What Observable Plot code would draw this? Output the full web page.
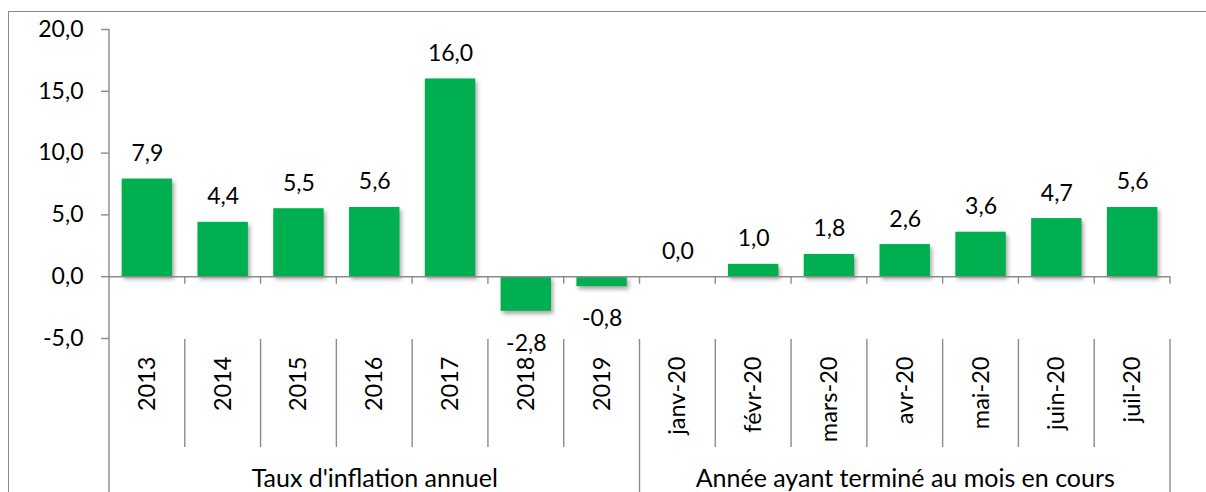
<!DOCTYPE html>
<html><head><meta charset="utf-8">
<script src="https://cdn.jsdelivr.net/npm/d3@7"></script>
<script src="https://cdn.jsdelivr.net/npm/@observablehq/plot@0.6"></script>
<style>
body{margin:0;background:#fff;}
#wrap{position:relative;width:1206px;height:492px;overflow:hidden;}
#frame{position:absolute;left:8px;top:11px;width:1400px;height:700px;border-left:1.6px solid #8a8a8a;border-top:1.6px solid #8a8a8a;pointer-events:none;}
.bars{filter:drop-shadow(2px 3px 2px rgba(0,0,0,0.35));}
#wrap svg{font-family:Lato, "Open Sans", sans-serif;}
</style></head><body><div id="wrap"><div id="frame"></div></div>
<script>
const categories = ["2013","2014","2015","2016","2017","2018","2019","janv-20","févr-20","mars-20","avr-20","mai-20","juin-20","juil-20"];
const values = [7.9, 4.4, 5.5, 5.6, 16.0, -2.8, -0.8, 0.0, 1.0, 1.8, 2.6, 3.6, 4.7, 5.6];
const groups = ["Taux d'inflation annuel", "Année ayant terminé au mois en cours"];
const groupSizes = [7, 7];
const yTicks = [-5, 0, 5, 10, 15, 20];

const data = categories.map((c, i) => ({cat: c, value: values[i]}));
const fmt = v => (Math.abs(v) < 1e-9 ? 0 : v).toFixed(1).replace(".", ",");

// group label positions: middle category of each group; group boundaries
let start = 0;
const groupData = groups.map((g, i) => {
  const mid = categories[start + Math.floor(groupSizes[i] / 2)];
  const last = categories[start + groupSizes[i] - 1];
  start += groupSizes[i];
  return {label: g, mid, last};
});
const groupEnds = new Set(groupData.map(d => d.last));

const gray = "#8c8c8c";
const FS = 23;

const categoryAxis = (index, scales, vals, dims) => {
  const x = scales.x, y = scales.y;
  const bw = x.bandwidth();
  const g = d3.create("svg:g").attr("stroke", gray).attr("stroke-width", 1.4).attr("fill", "none");
  const y0 = y(0), yb = y(-5);
  // vertical axis line
  g.append("line").attr("x1", dims.marginLeft).attr("x2", dims.marginLeft)
    .attr("y1", y(20)).attr("y2", dims.height);
  for (const c of categories) {
    const xr = x(c) + bw;
    // small ticks under zero line
    g.append("line").attr("x1", xr).attr("x2", xr).attr("y1", y0).attr("y2", y0 + 7.5);
    // separators
    g.append("line").attr("x1", xr).attr("x2", xr).attr("y1", yb + 1)
      .attr("y2", groupEnds.has(c) ? dims.height : yb + 109);
  }
  return g.node();
};

const chart = Plot.plot({
  width: 1206,
  height: 492,
  marginLeft: 109,
  marginRight: 36,
  marginTop: 29,
  marginBottom: 154,
  style: {fontFamily: "Lato, 'Open Sans', sans-serif", background: "transparent"},
  x: {domain: categories, padding: 0, round: false, axis: null},
  y: {domain: [-5, 20], axis: null},
  marks: [
    Plot.axisY(yTicks, {anchor: "left", label: null, tickSize: 8, tickPadding: 18, tickFormat: fmt, fontSize: FS, stroke: gray, strokeWidth: 1.4, fill: "black"}),
    Plot.barY(data, {x: "cat", y: "value", fill: "#00b050", insetLeft: 12.7, insetRight: 12.7, className: "bars"}),
    Plot.ruleY([0], {stroke: gray, strokeWidth: 1.4}),
    categoryAxis,
    Plot.text(data.filter(d => d.value >= 0), {x: "cat", y: "value", text: d => fmt(d.value), lineAnchor: "bottom", dy: -18, fontSize: FS, fill: "black"}),
    Plot.text(data.filter(d => d.value < 0), {x: "cat", y: "value", text: d => fmt(d.value), lineAnchor: "top", dy: 23, fontSize: FS, fill: "black"}),
    Plot.text(data, {x: "cat", frameAnchor: "bottom", text: "cat", rotate: -90, textAnchor: "end", lineAnchor: "middle", dy: 18, fontSize: 23.5, fill: "black"}),
    Plot.text(groupData, {x: "mid", frameAnchor: "bottom", text: "label", lineAnchor: "bottom", dy: 148, fontSize: 25, fill: "black"})
  ]
});
document.getElementById("wrap").prepend(chart);
</script>
</body></html>
